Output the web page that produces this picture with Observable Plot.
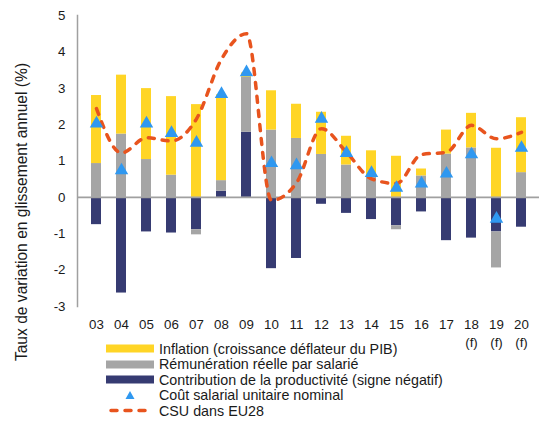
<!DOCTYPE html>
<html>
<head>
<meta charset="utf-8">
<script src="https://cdn.jsdelivr.net/npm/d3@7"></script>
<script src="https://cdn.jsdelivr.net/npm/@observablehq/plot@0.6"></script>
<style>
  body { margin: 0; background: #fff; font-family: "Liberation Sans", Arial, sans-serif; }
  #wrap { position: relative; width: 539px; height: 421px; overflow: hidden; }
  #legend { position: absolute; left: 106px; top: 341px; font-size: 14.3px; color: #1a1a1a; }
  .row { display: flex; align-items: center; height: 15.5px; white-space: nowrap; }
  .row svg { display: block; margin-right: 5px; }
  #ytitle { position: absolute; left: 22px; top: 212px; transform: translate(-50%, -50%) rotate(-90deg);
            white-space: nowrap; font-size: 15.6px; line-height: 1; color: #1a1a1a; }
</style>
</head>
<body>
<div id="wrap"><div id="chart"></div><div id="legend"></div><div id="ytitle"></div></div>
<script>
const years = ["03","04","05","06","07","08","09","10","11","12","13","14","15","16","17","18","19","20"];
const forecastYears = ["18","19","20"];
const productivity = [-0.75,-2.63,-0.95,-0.98,-0.89,0.17,1.79,-1.96,-1.68,-0.19,-0.44,-0.61,-0.78,-0.40,-1.19,-1.12,-0.95,-0.82];
const realRemuneration = [0.93,1.74,1.04,0.61,-0.14,0.29,1.51,1.85,1.62,1.18,0.89,0.56,-0.11,0.59,1.19,1.36,-0.99,0.68];
const inflation = [1.87,1.62,1.95,2.16,2.55,2.36,0.12,1.08,0.94,1.16,0.79,0.72,1.13,0.19,0.66,0.95,1.35,1.51];
const nominalULC = [2.03,0.74,2.03,1.77,1.50,2.84,3.44,0.94,0.88,2.16,1.22,0.67,0.26,0.38,0.65,1.18,-0.59,1.36];
const ulcEU28 = [2.44,1.22,1.64,1.55,2.16,3.80,4.50,-0.08,0.40,1.89,1.24,0.51,0.38,1.18,1.24,1.98,1.61,1.79];
const yTicks = [-3,-2,-1,0,1,2,3,4,5];
const yTitle = "Taux de variation en glissement annuel (%)";

const seriesNames = [
  "Contribution de la productivité (signe négatif)",
  "Rémunération réelle par salarié",
  "Inflation (croissance déflateur du PIB)"
];
const seriesColors = ["#363b72", "#a5a5a5", "#ffd526"];
const seriesValues = [productivity, realRemuneration, inflation];

const stacked = [];
seriesNames.forEach((s, i) => years.forEach((y, j) => stacked.push({year: y, series: s, value: seriesValues[i][j]})));
const points = years.map((y, j) => ({year: y, ulc: nominalULC[j], eu: ulcEU28[j]}));

const chart = Plot.plot({
  width: 539,
  height: 360,
  marginLeft: 77,
  marginRight: 0,
  marginTop: 15,
  marginBottom: 54,
  style: {fontFamily: "'Liberation Sans', Arial, sans-serif", fontSize: "13.3px", color: "#1a1a1a", background: "#fff", overflow: "visible"},
  x: {type: "band", domain: years, paddingInner: 0.6, paddingOuter: 0.3},
  y: {domain: [-3, 5]},
  color: {domain: seriesNames, range: seriesColors},
  marks: [
    Plot.barY(stacked, {x: "year", y: "value", fill: "series", order: seriesNames}),
    Plot.ruleY([0], {stroke: "#a0a0a0", strokeWidth: 1.6}),
    Plot.frame({anchor: "left", stroke: "#a0a0a0", strokeWidth: 1.5}),
    Plot.line(points, {x: "year", y: "eu", stroke: "#e8541e", strokeWidth: 3.5, strokeDasharray: "6,8", strokeLinecap: "round", curve: "monotone-x"}),
    Plot.dot(points, {x: "year", y: "ulc", symbol: "triangle", r: 5, fill: "#2f98f0"}),
    Plot.axisY({ticks: yTicks, tickSize: 0, tickPadding: 12, label: null, tickFormat: d => String(d)}),
    Plot.axisX({tickSize: 0, tickPadding: 10, label: null, lineHeight: 1.32,
      tickFormat: d => forecastYears.includes(d) ? d + "\n(f)" : d})
  ]
});
document.getElementById("chart").appendChild(chart);
document.getElementById("ytitle").textContent = yTitle;

const legendItems = [
  {label: seriesNames[2], kind: "rect", color: seriesColors[2]},
  {label: seriesNames[1], kind: "rect", color: seriesColors[1]},
  {label: seriesNames[0], kind: "rect", color: seriesColors[0]},
  {label: "Coût salarial unitaire nominal", kind: "tri", color: "#2f98f0"},
  {label: "CSU dans EU28", kind: "dash", color: "#e8541e"}
];
const legend = document.getElementById("legend");
for (const it of legendItems) {
  const row = document.createElement("div");
  row.className = "row";
  let sw = "";
  if (it.kind === "rect") sw = `<rect x="0" y="3.5" width="48" height="8" fill="${it.color}"/>`;
  else if (it.kind === "tri") sw = `<path d="M24,3 L28.5,11 L19.5,11 Z" fill="${it.color}"/>`;
  else sw = `<line x1="5" x2="44" y1="7.5" y2="7.5" stroke="${it.color}" stroke-width="3.5" stroke-linecap="round" stroke-dasharray="6,8"/>`;
  row.innerHTML = `<svg width="48" height="15">${sw}</svg><span>${it.label}</span>`;
  legend.appendChild(row);
}
</script>
</body>
</html>
